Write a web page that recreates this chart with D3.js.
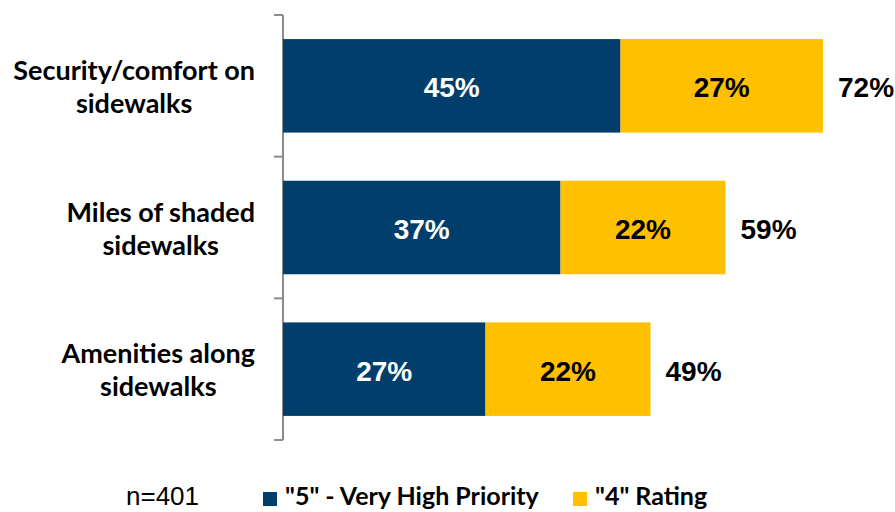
<!DOCTYPE html>
<html>
<head>
<meta charset="utf-8">
<script src="https://cdn.jsdelivr.net/npm/d3@7/dist/d3.min.js"></script>
<style>
  html, body { margin: 0; padding: 0; background: #fff; }
  svg { display: block; }
</style>
</head>
<body>
<svg id="chart" width="895" height="512"></svg>
<script>
// Survey results: share rating each item a 5 or a 4
const categories = [
  ["Security/comfort on", "sidewalks"],
  ["Miles of shaded", "sidewalks"],
  ["Amenities along", "sidewalks"]
];
const veryHigh = [45, 37, 27];   // "5" - Very High Priority
const rating4 = [27, 22, 22];    // "4" Rating
const seriesNames = ['"5" - Very High Priority', '"4" Rating'];
const sampleNote = "n=401";

const colors = ["#023e6b", "#ffc000"];
const labelFont = "Lato, 'Open Sans', sans-serif";
const valueFont = "'Liberation Sans', Arial, sans-serif";

const svg = d3.select("#chart");
const x0 = 283;
const x = d3.scaleLinear().domain([0, 72]).range([x0, x0 + 540]);
const y = d3.scaleBand()
  .domain(d3.range(categories.length))
  .range([15, 440])
  .paddingInner(0.34)
  .paddingOuter(0.17);

const rows = categories.map((c, i) => ({ i, lines: c, a: veryHigh[i], b: rating4[i] }));

// axis line with tick marks between categories
const axis = svg.append("g").attr("stroke", "#8c8c8c").attr("stroke-width", 2);
axis.append("line").attr("x1", x0).attr("x2", x0).attr("y1", 15).attr("y2", 440);
d3.range(categories.length + 1).forEach(k => {
  const yy = 15 + k * y.step();
  axis.append("line").attr("x1", x0 - 9).attr("x2", x0).attr("y1", yy).attr("y2", yy);
});

// stacked bars
const g = svg.append("g");
g.selectAll("rect.a").data(rows).join("rect")
  .attr("x", x(0)).attr("y", d => y(d.i))
  .attr("width", d => x(d.a) - x(0)).attr("height", y.bandwidth())
  .attr("fill", colors[0]);
g.selectAll("rect.b").data(rows).join("rect")
  .attr("x", d => x(d.a)).attr("y", d => y(d.i))
  .attr("width", d => x(d.a + d.b) - x(d.a)).attr("height", y.bandwidth())
  .attr("fill", colors[1]);

// value labels
const vstyle = sel => sel.attr("font-family", valueFont).attr("font-weight", "bold")
  .attr("font-size", 28).attr("dominant-baseline", "central");
g.selectAll("text.a").data(rows).join("text").call(vstyle)
  .attr("x", d => (x(0) + x(d.a)) / 2).attr("y", d => y(d.i) + y.bandwidth() / 2 + 2)
  .attr("text-anchor", "middle").attr("fill", "#fff").text(d => d.a + "%");
g.selectAll("text.b").data(rows).join("text").call(vstyle)
  .attr("x", d => (x(d.a) + x(d.a + d.b)) / 2).attr("y", d => y(d.i) + y.bandwidth() / 2 + 2)
  .attr("text-anchor", "middle").attr("fill", "#000").text(d => d.b + "%");
g.selectAll("text.t").data(rows).join("text").call(vstyle)
  .attr("x", d => x(d.a + d.b) + 15).attr("y", d => y(d.i) + y.bandwidth() / 2 + 2)
  .attr("text-anchor", "start").attr("fill", "#000").text(d => (d.a + d.b) + "%");

// category labels: centred lines, block right-aligned to the axis
rows.forEach(d => {
  const t = svg.append("text")
    .attr("font-family", labelFont).attr("font-weight", "bold")
    .attr("font-size", 27).attr("fill", "#000").attr("text-anchor", "middle");
  const cy = y(d.i) + y.bandwidth() / 2;
  const spans = d.lines.map((ln, k) => t.append("tspan")
    .attr("y", cy + (k - (d.lines.length - 1) / 2) * 33)
    .attr("dominant-baseline", "central").text(ln));
  const w = d3.max(spans, s => s.node().getComputedTextLength());
  spans.forEach(s => s.attr("x", 255 - w / 2));
});

// footer note and legend
svg.append("text").attr("x", 126).attr("y", 505)
  .attr("font-family", valueFont).attr("font-size", 26).attr("fill", "#000")
  .text(sampleNote);
const legendX = [263, 573];
seriesNames.forEach((name, k) => {
  svg.append("rect").attr("x", legendX[k]).attr("y", 492).attr("width", 14).attr("height", 14)
    .attr("fill", colors[k]);
  svg.append("text").attr("x", legendX[k] + 22).attr("y", 505)
    .attr("font-family", labelFont).attr("font-weight", "bold")
    .attr("font-size", 25).attr("fill", "#000").text(name);
});
</script>
</body>
</html>
